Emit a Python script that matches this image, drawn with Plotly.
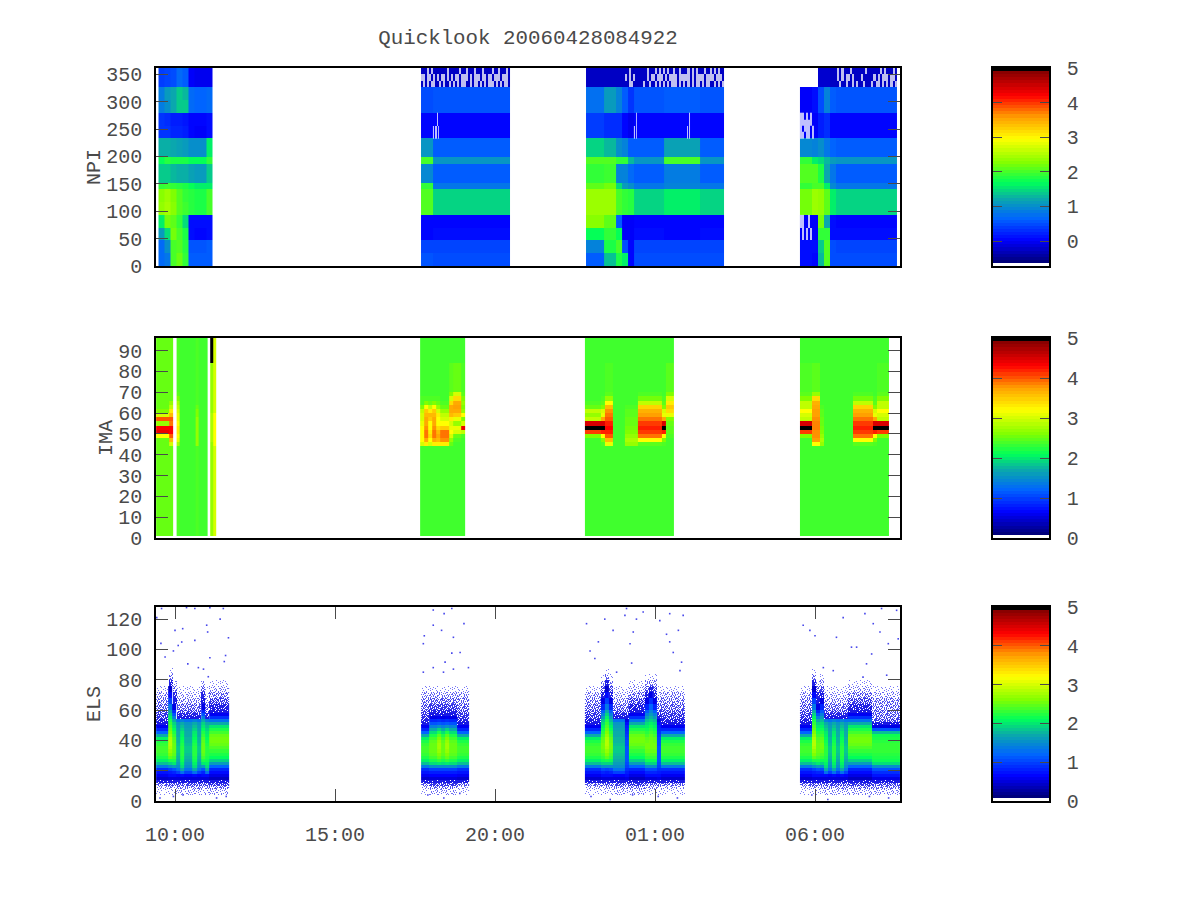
import plotly.graph_objects as go
import numpy as np

# ---------------- time axis (hours; 25 = 01:00 next day) ----------------
TICK_HOURS = [10, 15, 20, 25, 30]
TICK_LABELS = ["10:00", "15:00", "20:00", "01:00", "06:00"]
X_RANGE = [9.406, 32.656]

# ---------------- NPI ----------------
NPI_Y_EDGES = [0, 23.3, 46.6, 70, 93.3, 116.6, 140, 151.6, 186.6, 198.2, 233.2, 256.5, 279.9, 303.2, 326.5, 361.5]
NPI_PROFILES = {
    "q": [.5, .45, .1, .05, 1.45, 1.45, .8, .6, 1.05, .6, .05, .05, .55, .55, -.25],
    "R": [.55, .45, .05, .05, 2.05, 2.05, 1.9, .95, 2.0, 1.05, .05, .05, .5, .5, -.25],
    "a": [.7, .7, 1.1, 1.6, 2.35, 2.3, 1.9, 1.4, 1.7, 1.25, .35, .35, .85, .85, .4],
    "b": [.8, 1.0, 1.5, 2.2, 2.45, 2.4, 1.95, 1.4, 1.85, 1.25, .35, .3, 1.0, 1.1, .45],
    "c": [2.0, 2.0, 2.2, 2.1, 2.3, 2.25, 1.9, 1.3, 1.8, 1.2, .25, .2, 1.2, 1.2, .5],
    "d": [2.15, 2.05, 2.0, 1.9, 2.05, 2.05, 1.85, 1.25, 1.8, 1.15, .25, .2, 1.4, 1.4, .7],
    "e": [1.9, 1.85, 1.8, 1.5, 1.95, 1.9, 1.8, 1.25, 1.8, 1.1, .2, .15, 1.4, 1.3, .6],
    "f": [.6, .55, .1, .1, 1.85, 1.85, 1.7, 1.15, 1.7, 1.0, .05, .05, .7, .7, 0],
    "g": [.6, .55, .05, .1, 1.8, 1.8, 1.6, 1.1, 1.7, 1.0, .0, .05, .65, .65, -.05],
    "h": [.6, .6, .1, .1, 2.0, 2.0, 1.6, 1.4, 1.9, 1.6, .1, .1, .7, .7, -.05],
    "t": [.6, .9, 1.7, 2.3, 2.4, 2.4, 2.1, 1.9, 2.05, 1.45, .4, .4, .75, .75, -.25],
    "V": [1.35, 1.8, 1.9, 2.1, 2.4, 2.4, 2.2, 1.95, 2.05, 1.3, .3, .3, 1.1, 1.1, -.25],
    "W": [1.8, 2.0, 1.7, .6, 2.0, 2.0, 1.5, .9, 1.9, 1.0, .3, .3, .9, .9, -.25],
    "X": [1.6, .5, .0, .0, 1.9, 1.9, 1.1, .9, 1.9, .9, .05, .05, .6, .6, -.25],
    "Y": [.05, .05, .0, .0, 1.85, 1.85, 1.0, .7, 1.3, .6, -.05, -.05, .35, .35, -.3],
    "U": [.5, .45, .05, .05, 1.6, 1.6, .9, .85, 2.0, 1.15, .05, .05, .6, .6, -.25],
    "K": [.1, .1, .0, .0, 2.2, 2.2, 1.9, 2.05, 1.9, .95, .0, .0, .0, .0, -1],
    "L": [.05, .1, .0, .0, 2.4, 2.4, 2.0, 2.05, 1.6, .9, .0, .0, .1, .1, -1],
    "M": [1.3, 1.4, 1.9, 2.2, 2.35, 2.35, 2.0, 1.8, 1.5, 1.0, .2, .2, .5, .5, -.2],
    "N": [2.05, 2.05, 1.9, 1.2, 2.1, 2.1, 1.6, 1.2, 1.3, .8, .3, .3, .9, .9, -.2],
    "O": [.5, .5, .1, .1, 1.6, 1.6, .95, .8, 1.1, .65, .05, .05, .6, .6, -.25],
}
NPI_BLOCKS = [
    (9.484, 11.156, "abcdefggh"),
    (17.688, 20.469, "RRqqqqqqqqqqqqq"),
    (22.844, 27.156, "tttVVWXYqqqqqUUUUUUqqqq"),
    (29.53, 32.56, "KKLMNOqqqqqqqqqq"),
]
# white drop-outs in the top three channels and a few others
STREAK_TOP_EDGES = [326.5, 338.2, 349.8, 361.5]
NPI_STREAKS = [
    (17.688, 20.469, STREAK_TOP_EDGES, [
        ".#.#.##..#.#..#.#.#.##..#.##.#.#.###.#.#.##.",
        "##.##.#.#.##.#.#.##.###.#.###.##.##.###.###.",
        "...#.#.......#.....#..#...#...#....#..#...#.",
    ]),
    (22.844, 27.156, STREAK_TOP_EDGES, [
        ".....................##.....#..#..#.#.#.#.###.#.#.#.#.##.#.##..#.#.#",
        "...................#.#.#......#.##.###.#.####.#####.#.####.####.###.",
        ".....................#........#...#.#.#.#..#..#...#.#.#...#..#.#.#.",
    ]),
    (30.09, 32.56, STREAK_TOP_EDGES, [
        "..........#..#..#.#..#...#.##.#.#.#.#",
        ".........#.#.##.#...#.....#.#.###.##.",
        ".........#.#...#......#......#.#...#.",
    ]),
    (29.53, 29.97, [233.2, 245, 256.5, 268, 279.9], [
        "##.##.#",
        "#.###.#",
        "######.",
        "##.#.#.",
    ]),
    (29.53, 29.97, [23.3, 46.6, 70, 93.3], [
        ".......",
        ".#.#.#.",
        "##..#..",
    ]),
    (18.06, 18.26, [233.2, 256.5, 279.9], ["#.#.#", "...#."]),
    (24.34, 24.44, [233.2, 256.5, 279.9], ["#.#", "..#"]),
    (26.0, 26.1, [233.2, 256.5, 279.9], ["#.#", "..#"]),
]

# ---------------- IMA ----------------
IMA_Y_EDGES = [1, 44, 46, 48, 50, 52, 54, 56, 58, 60, 62, 64, 66, 68, 70, 84, 96]
IMA_PROFILES = {
    "g": [2.35, 2.35, 2.35, 2.35, 2.35, 2.35, 2.35, 2.35, 2.35, 2.35, 2.35, 2.35, 2.35, 2.35, 2.35, 2.35],
    "h": [2.5, 2.5, 2.5, 2.5, 2.5, 2.5, 2.5, 2.5, 2.5, 2.5, 2.5, 2.5, 2.5, 2.5, 2.5, 2.5],
    "i": [2.5, 2.5, 2.5, 3.2, 4.4, 4.3, 2.7, 4.0, 3.0, 2.6, 2.5, 2.5, 2.5, 2.5, 2.5, 2.5],
    "j": [2.5, 3.0, 3.6, 4.0, 4.3, 4.3, 3.9, 4.0, 3.6, 3.3, 2.9, 2.7, 2.5, 2.5, 2.5, 2.5],
    "k": [2.4, 2.8, 3.1, 3.2, 3.3, 3.3, 3.2, 3.1, 3.1, 3.0, 2.9, 2.8, 2.6, 2.45, 2.4, 2.4],
    "l": [2.4, 2.7, 2.7, 2.7, 2.7, 2.7, 2.7, 2.7, 2.6, 2.6, 2.5, 2.4, 2.4, 2.4, 2.4, 2.4],
    "m": [2.7, 2.7, 2.8, 2.8, 2.8, 2.8, 2.8, 2.8, 2.8, 2.7, 2.7, 2.7, 2.7, 2.7, 2.7, 5.0],
    "n": [3.0, 3.2, 3.2, 3.2, 3.2, 3.2, 3.2, 3.2, 3.2, 3.0, 3.0, 3.0, 3.0, 3.0, 3.0, 3.0],
    "a": [2.35, 3.0, 3.2, 3.2, 3.2, 3.2, 3.1, 3.0, 3.0, 2.9, 2.6, 2.4, 2.4, 2.35, 2.35, 2.35],
    "c": [2.35, 3.3, 3.7, 3.9, 3.9, 3.8, 3.7, 3.7, 3.6, 3.5, 3.2, 2.6, 2.4, 2.35, 2.35, 2.35],
    "d": [2.35, 3.0, 3.2, 3.4, 3.3, 3.2, 3.2, 3.5, 3.6, 3.3, 2.9, 2.5, 2.4, 2.35, 2.35, 2.35],
    "e": [2.35, 3.3, 3.8, 3.9, 3.9, 3.5, 3.2, 3.0, 2.9, 2.7, 2.5, 2.4, 2.35, 2.35, 2.35, 2.35],
    "f": [2.35, 3.3, 3.6, 3.7, 3.6, 3.4, 3.2, 3.2, 3.3, 3.0, 2.7, 2.5, 2.4, 2.35, 2.35, 2.35],
    "o": [2.35, 2.5, 2.7, 3.0, 3.2, 3.1, 3.0, 3.3, 3.6, 3.7, 3.7, 3.4, 3.0, 2.6, 2.45, 2.35],
    "p": [2.35, 2.35, 2.4, 2.5, 3.0, 3.1, 2.7, 3.1, 3.5, 3.7, 3.75, 3.7, 3.4, 3.0, 2.5, 2.35],
    "t": [2.35, 2.35, 2.35, 2.4, 2.9, 4.4, 3.0, 2.6, 3.2, 2.7, 2.6, 2.7, 2.6, 2.45, 2.4, 2.35],
    "b": [2.35, 2.35, 2.35, 2.6, 4.1, 5, 4.5, 2.9, 2.7, 2.9, 2.5, 2.4, 2.35, 2.35, 2.35, 2.35],
    "u": [2.35, 2.4, 2.6, 3.2, 4.2, 5, 4.5, 3.7, 3.1, 3.0, 2.6, 2.45, 2.4, 2.35, 2.35, 2.35],
    "v": [2.35, 3.1, 3.6, 4.0, 4.2, 4.3, 4.2, 4.0, 3.9, 3.8, 3.6, 3.2, 2.7, 2.45, 2.4, 2.35],
    "r": [2.35, 2.45, 3.2, 3.9, 4.1, 4.2, 4.1, 3.9, 3.75, 3.65, 3.45, 2.9, 2.55, 2.4, 2.35, 2.35],
    "s": [2.35, 2.7, 2.8, 2.7, 2.6, 2.55, 2.5, 2.5, 2.45, 2.45, 2.4, 2.35, 2.35, 2.35, 2.35, 2.35],
    "y": [2.35, 2.35, 2.35, 2.4, 2.45, 2.45, 2.5, 2.6, 3.1, 3.4, 3.5, 3.3, 3.0, 2.6, 2.45, 2.35],
    "w": [2.35, 3.2, 3.75, 3.8, 3.8, 3.85, 3.85, 3.8, 3.75, 3.75, 3.7, 3.65, 3.4, 2.7, 2.45, 2.35],
    "x": [2.35, 2.35, 2.35, 2.6, 4.1, 5, 4.5, 2.9, 3.0, 3.2, 2.9, 2.9, 2.6, 2.45, 2.4, 2.35],
}
IMA_BLOCKS = [
    (9.41, 9.95, "iiij"),
    (10.05, 11.02, "kggggglggg"),
    (11.10, 11.28, "mn"),
    (17.66, 19.06, "acdcfeeoppt"),
    (22.81, 25.59, "bbbbuvvgggsssrrrrrruyy"),
    (29.53, 32.31, "xxxwwsgggggggrrrrruxxx"),
]

# ---------------- ELS ----------------
ELS_Y_EDGES = [0, 4, 8, 10, 12, 14, 16, 18, 20, 22, 24, 26, 28, 30, 32, 34, 36, 38, 40, 42, 44, 46, 48, 50,
               52, 54, 56, 58, 60, 64, 68, 72, 76, 80, 84, 88, 128]
# positive = count level; negative = thinly speckled area (fraction of lit pixels)
ELS_PROFILES = {
    "A": [0, -.08, -.25, -.5, -.9, .45, .6, .75, .9, 1.35, 1.8, 2.05, 2.2, 2.3, 2.35, 2.35, 2.3, 2.2, 2.05, 1.7,
          1.2, .85, .6, -.92, -.85, -.75, -.7, -.65, -.55, -.45, -.3, -.12, -.04, 0, 0, 0],
    "B": [0, -.15, -.35, -.6, -.9, .5, .7, .8, 1.0, 1.5, 1.9, 2.2, 2.45, 2.6, 2.7, 2.8, 2.85, 2.85, 2.8, 2.7,
          2.6, 2.5, 2.4, 2.3, 2.2, 2.05, 1.9, 1.7, 1.35, 1.0, .7, .45, -.85, -.4, -.1, 0],
    "J": [0, -.15, -.3, -.55, -.9, .5, .7, .85, 1.05, 1.5, 1.9, 2.15, 2.3, 2.4, 2.5, 2.55, 2.55, 2.5, 2.45, 2.35,
          2.25, 2.15, 2.05, 1.95, 1.8, 1.6, 1.4, 1.15, .85, .55, -.85, -.6, -.3, -.1, 0, 0],
    "C": [0, -.15, -.3, -.55, -.9, .5, .7, .85, 1.1, 1.6, 2.0, 2.2, 2.35, 2.45, 2.5, 2.5, 2.5, 2.45, 2.4, 2.3,
          2.2, 2.1, 2.0, 1.9, 1.7, 1.4, 1.1, .85, .55, -.9, -.8, -.5, -.2, -.05, 0, 0],
    "D": [0, -.2, -.4, -.6, -.9, .5, .7, 1.3, 1.7, 1.95, 2.05, 2.15, 2.2, 2.25, 2.25, 2.25, 2.2, 2.15, 2.1, 2.05,
          2.0, 1.9, 1.8, 1.7, 1.4, -.9, -.8, -.65, -.5, -.35, -.2, -.08, 0, 0, 0, 0],
    "E": [0, -.2, -.4, -.6, -.9, .5, .65, 1.0, 1.3, 1.5, 1.6, 1.7, 1.75, 1.8, 1.85, 1.85, 1.8, 1.75, 1.75, 1.7,
          1.7, 1.65, 1.6, 1.55, 1.3, -.9, -.8, -.65, -.5, -.35, -.2, -.08, 0, 0, 0, 0],
    "F": [0, -.2, -.45, -.7, -.9, .4, .55, .7, .85, 1.2, 1.6, 1.9, 2.1, 2.2, 2.3, 2.4, 2.5, 2.55, 2.55, 2.5,
          2.35, 2.2, 2.0, 1.7, 1.3, .9, .6, -.92, -.85, -.65, -.45, -.25, -.1, -.02, 0, 0],
    "G": [0, -.15, -.35, -.55, -.9, .55, .7, .8, .9, 1.0, 1.05, 1.1, 1.1, 1.1, 1.1, 1.1, 1.05, 1.05, 1.0, .95,
          .9, .85, .8, .7, .55, -.9, -.8, -.65, -.5, -.4, -.25, -.1, 0, 0, 0, 0],
    "H": [0, -.15, -.3, -.55, -.9, .5, .7, .85, 1.05, 1.5, 1.9, 2.15, 2.3, 2.4, 2.5, 2.55, 2.55, 2.55, 2.5, 2.45,
          2.35, 2.25, 2.15, 2.05, 1.9, 1.75, 1.6, 1.45, 1.2, .9, .55, -.85, -.4, -.1, 0, 0],
    "I": [0, -.2, -.45, -.7, -.9, .5, .65, .8, 1.0, 1.5, 1.95, 2.2, 2.35, 2.45, 2.5, 2.5, 2.5, 2.45, 2.35, 2.2,
          1.95, 1.7, 1.4, 1.1, .85, .55, -.92, -.85, -.7, -.5, -.3, -.12, -.03, 0, 0, 0],
    "K": [0, -.2, -.45, -.7, -.9, .5, .65, .8, 1.0, 1.5, 2.0, 2.3, 2.5, 2.6, 2.7, 2.75, 2.75, 2.7, 2.6, 2.45,
          2.2, 1.9, 1.5, 1.15, .9, .6, -.92, -.85, -.7, -.5, -.3, -.12, -.03, 0, 0, 0],
    "Q": [0, -.2, -.4, -.6, -.9, .55, .75, .9, 1.1, 1.5, 1.95, 2.15, 2.2, 2.25, 2.3, 2.3, 2.3, 2.25, 2.2, 2.15,
          1.8, 1.1, .55, -.92, -.6, -.55, -.5, -.5, -.45, -.4, -.25, -.1, -.03, 0, 0, 0],
}
ELS_BLOCKS = [
    (9.41, 11.69, "AAABCEDEEDECDFFFFF"),
    (17.69, 19.19, "AAIIKIKIIAAA"),
    (22.81, 25.94, "AAAAJBJEEEGFFFFJHJGAAAAAA"),
    (29.53, 32.656, "AAABCJDEDEDEFFFFFFQQQQQQQ"),
]
# isolated pixels well away from the main band
ELS_DOT_HOURS = [9.56, 9.43, 9.58, 10.0, 10.24, 10.1, 10.21, 9.95, 10.62, 10.99, 11.02, 11.09, 11.54, 11.67, 11.58,
                 10.4, 10.73, 10.89, 11.04, 11.41, 11.51, 11.09, 10.62, 10.36, 9.69,
                 17.79, 18.07, 18.41, 18.65, 18.07, 18.33, 18.7, 19.03, 17.76, 18.65, 18.91, 18.07, 18.44, 18.7,
                 19.17, 18.39, 17.76,
                 22.86, 23.43, 24.11, 24.06, 23.23, 22.97, 23.12, 23.69, 24.42, 24.63, 24.32, 24.22, 25.46, 25.36,
                 25.73, 25.83, 25.88, 25.57, 25.46, 25.15, 24.27, 23.8, 25.78,
                 29.63, 30.0, 29.84, 30.88, 31.3, 31.61, 31.56, 31.82, 32.03, 31.77, 32.29, 32.6, 32.08, 32.55,
                 31.14, 30.67, 30.26, 30.57, 32.24, 31.5,
                 9.53, 9.95, 10.25, 11.3, 11.6, 17.9, 18.4, 18.9, 23.0, 23.6, 24.3, 25.1, 25.7, 29.9, 30.4, 31.7, 32.3]
ELS_DOT_VALUES = [104, 121, 127, 112.6, 113.7, 102.6, 104.9, 99, 106, 116, 111.5, 94.5, 92, 107.7, 96,
                  90.5, 88, 87, 82, 120, 127, 127.6, 127, 127.6, 95,
                  109, 126, 123.6, 127, 116, 112.6, 108, 117, 103.8, 97.6, 98, 88, 91.6, 87,
                  88, 85, 85,
                  117, 120, 127, 122.5, 105, 99, 94, 112.6, 120, 124.7, 111.5, 103.8, 123.6, 110,
                  112.6, 91.6, 122.5, 98, 105, 119, 91, 85, 86,
                  116, 109, 112.6, 121, 101.5, 90.5, 123.6, 117, 111.5, 97, 103.8, 107, 127, 125.8,
                  101.5, 108, 88, 86, 83, 81.7,
                  2, 3, 4, 2, 3, 4, 2, 5, 3, 1, 4, 3, 2, 4, 1, 3, 2]
# hand-set ordered-dither tile that turns a speckle fraction into lit pixels
DITHER_TILE = [
    "40917263581",
    "72584019362",
    "16039572804",
    "85261840937",
    "30748152609",
    "92613078451",
    "57480926013",
    "04195368724",
    "68302741590",
]

# ---------------- palette and colour keys ----------------
PALETTE = [
    [0, "rgb(255,255,255)"], [.012, "rgb(255,255,255)"], [.012, "rgb(0,0,110)"], [.13, "rgb(0,0,255)"],
    [.24, "rgb(0,100,255)"], [.34, "rgb(10,170,170)"], [.42, "rgb(0,255,90)"], [.52, "rgb(128,255,0)"],
    [.64, "rgb(255,255,0)"], [.75, "rgb(255,160,0)"], [.86, "rgb(255,0,0)"], [.985, "rgb(130,0,0)"],
    [.99, "rgb(0,0,0)"], [1, "rgb(0,0,0)"],
]
SPECKLE = [[0, "rgb(130,130,250)"], [1, "rgb(15,15,225)"]]
NPI_RANGE = [-0.72, 5]
IMA_RANGE = [0, 5]
ELS_RANGE = [0, 5]
NPI_TICKS = [0, 50, 100, 150, 200, 250, 300, 350]
IMA_TICKS = [0, 10, 20, 30, 40, 50, 60, 70, 80, 90]
ELS_TICKS = [0, 20, 40, 60, 80, 100, 120]
BAR_TICKS = [0, 1, 2, 3, 4, 5]
BAR_LEVELS = 64

FONT = "Liberation Mono"
TXT = "#4a4a4a"
W, H = 1200, 900
ELS_PX_PER_HOUR = 32
ELS_ROW_STEP = 0.6623


def xdom(a, b):
    return [a / W, b / W]


def ydom(top, bottom):
    return [1 - bottom / H, 1 - top / H]


def columns(profiles, seq):
    return np.array([profiles[c] for c in seq], dtype=float).T


fig = go.Figure()


def block_heat(z, x0, x1, edges, rng, ax, colorscale=PALETTE, opacity=1):
    xe = np.linspace(x0, x1, z.shape[1] + 1)
    fig.add_trace(go.Heatmap(z=z, x=xe, y=edges, zmin=rng[0], zmax=rng[1], colorscale=colorscale, opacity=opacity,
                             showscale=False, hoverongaps=False, xaxis=f"x{ax}", yaxis=f"y{ax}"))


# NPI panel
for x0, x1, seq in NPI_BLOCKS:
    block_heat(columns(NPI_PROFILES, seq), x0, x1, NPI_Y_EDGES, NPI_RANGE, 1)
for x0, x1, edges, rows in NPI_STREAKS:
    width = max(len(r) for r in rows)
    z = np.array([[-5.0 if ch == "#" else np.nan for ch in row.ljust(width, ".")] for row in rows])
    block_heat(z, x0, x1, edges, NPI_RANGE, 1, opacity=0.75)

# IMA panel
for x0, x1, seq in IMA_BLOCKS:
    block_heat(columns(IMA_PROFILES, seq), x0, x1, IMA_Y_EDGES, IMA_RANGE, 2)

# ELS panel: speckled fringe first, then the main band, then isolated pixels
tile = np.array([[int(ch) for ch in row] for row in DITHER_TILE])
edges_arr = np.array(ELS_Y_EDGES, dtype=float)
for x0, x1, seq in ELS_BLOCKS:
    z = columns(ELS_PROFILES, seq)
    pale = np.where(z < 0, -z, 0.0)
    nx = int(round((x1 - x0) * ELS_PX_PER_HOUR))
    yfine = np.arange(0, 90 + ELS_ROW_STEP, ELS_ROW_STEP)
    yc = (yfine[:-1] + yfine[1:]) / 2
    rows_i = np.searchsorted(edges_arr, yc, side="right") - 1
    cols_i = (np.arange(nx) * z.shape[1]) // nx
    density = pale[np.ix_(rows_i, cols_i)]
    jj, ii = np.indices(density.shape)
    thr = (tile[(jj + 4 * (ii // 11)) % tile.shape[0], ii % tile.shape[1]] + 0.5) / 10
    lit = np.where(density > thr, density, np.nan)
    block_heat(lit, x0, x1, yfine, [0, 1], 3, SPECKLE)
    main = np.where(z > 0, z, np.nan)
    block_heat(main, x0, x1, ELS_Y_EDGES, ELS_RANGE, 3)
fig.add_trace(go.Scatter(x=ELS_DOT_HOURS, y=ELS_DOT_VALUES, mode="markers", xaxis="x3", yaxis="y3",
                         marker=dict(symbol="square", size=1.6, color="rgb(70,70,235)", line_width=0),
                         showlegend=False))

# colour keys
for ax, rng in ((4, NPI_RANGE), (5, IMA_RANGE), (6, ELS_RANGE)):
    lo, hi = rng
    edges = np.linspace(lo, hi, BAR_LEVELS + 1)
    z = ((edges[:-1] + edges[1:]) / 2).reshape(-1, 1)
    fig.add_trace(go.Heatmap(z=z, x=[0, 1], y=edges, zmin=lo, zmax=hi, colorscale=PALETTE, showscale=False,
                             xaxis=f"x{ax}", yaxis=f"y{ax}"))

tick_font = dict(family=FONT, size=20, color=TXT)
common = dict(showline=True, linecolor="black", linewidth=1.5, showgrid=False, zeroline=False,
              tickfont=tick_font)
panels = {1: (68, 266), 2: (338, 538), 3: (607, 801)}
keys = {4: (68, 266), 5: (338, 538), 6: (607, 801)}

layout = dict(
    width=W, height=H, margin=dict(l=0, r=0, t=0, b=0, autoexpand=False), paper_bgcolor="white",
    plot_bgcolor="white", showlegend=False,
    font=dict(family=FONT, color=TXT),
    title=dict(text="Quicklook 20060428084922", x=528 / W, xanchor="center", y=1 - 37 / H, yanchor="middle",
               font=dict(family=FONT, size=20.8, color=TXT)),
)
Y_SPEC = {
    1: ("NPI", [0, 361.5], NPI_TICKS),
    2: ("IMA", [0, 96], IMA_TICKS),
    3: ("ELS", [0, 128], ELS_TICKS),
}
for i, (top, bot) in panels.items():
    lay_x = dict(common, domain=xdom(156, 900), range=X_RANGE, anchor=f"y{i}", mirror=True,
                 tickmode="array", tickvals=TICK_HOURS, ticktext=TICK_LABELS)
    if i == 3:
        lay_x.update(ticks="inside", ticklen=12, tickcolor=TXT, tickwidth=1, mirror="ticks", ticklabelstandoff=14)
    else:
        lay_x.update(ticks="", showticklabels=False)
    layout["xaxis" if i == 1 else f"xaxis{i}"] = lay_x
    name, rng, tv = Y_SPEC[i]
    layout["yaxis" if i == 1 else f"yaxis{i}"] = dict(
        common, domain=ydom(top, bot), range=rng, anchor=f"x{i}", mirror="ticks", ticks="inside", ticklen=12,
        tickcolor=TXT, tickwidth=1, tickmode="array", tickvals=tv, ticklabelstandoff=8,
        title=dict(text=name, font=dict(family=FONT, size=20, color=TXT), standoff=0))
for i, (top, bot) in keys.items():
    lo_hi = {4: NPI_RANGE, 5: IMA_RANGE, 6: ELS_RANGE}[i]
    layout[f"xaxis{i}"] = dict(common, domain=xdom(993, 1049), range=[0, 1], anchor=f"y{i}", mirror=True,
                               ticks="", showticklabels=False)
    layout[f"yaxis{i}"] = dict(common, domain=ydom(top, bot), range=lo_hi, anchor=f"x{i}", side="right",
                               mirror="ticks", ticks="inside", ticklen=9, tickcolor=TXT, tickwidth=1,
                               tickmode="array", tickvals=BAR_TICKS, ticklabelstandoff=12)
fig.update_layout(**layout)
fig.write_html("out.html", config={"displayModeBar": False}, post_script="document.body.style.margin='0';")
